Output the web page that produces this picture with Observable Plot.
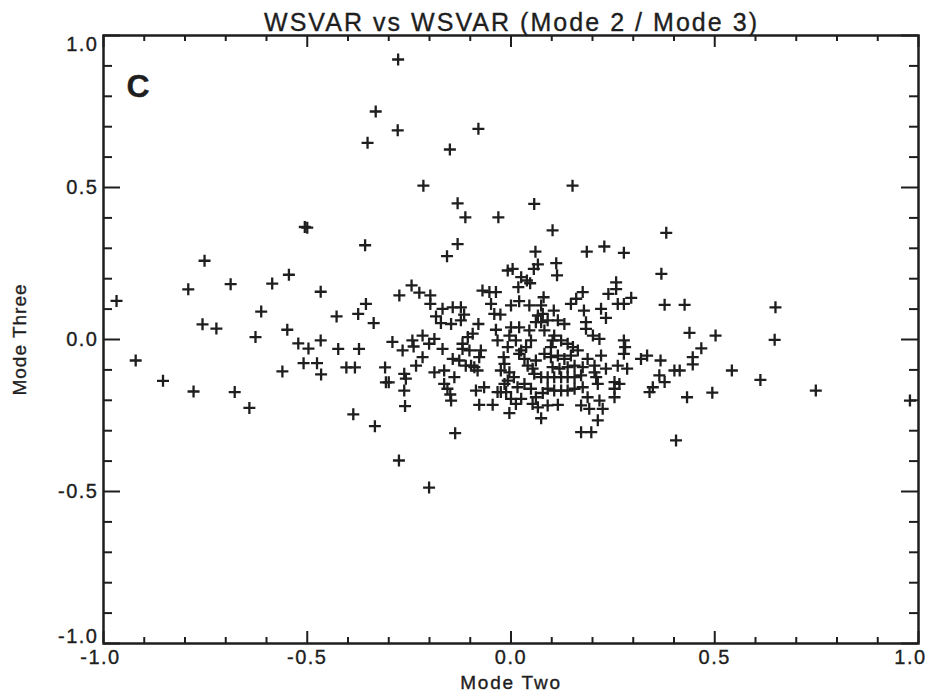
<!DOCTYPE html>
<html>
<head>
<meta charset="utf-8">
<script src="https://cdn.jsdelivr.net/npm/d3@7"></script>
<script src="https://cdn.jsdelivr.net/npm/@observablehq/plot@0.6"></script>
<style>
  body { margin: 0; background: #fff; }
  #chart svg text { stroke: #1e1e1e; stroke-width: 0.35px; }
  #chart svg g[aria-label="x-axis tick label"] text,
  #chart svg g[aria-label="y-axis tick label"] text { letter-spacing: 1.5px; }
  #chart svg g.axis-title-x text { letter-spacing: 1.8px; }
  #chart svg g.axis-title-y text { letter-spacing: 1px; }
</style>
</head>
<body>
<div id="chart"></div>
<script>
// ---- data ----
const modeTwo = [
  -0.968, -0.921, -0.854, -0.792, -0.752, -0.779, -0.757, -0.723, -0.688, -0.678,
  -0.642, -0.627, -0.613, -0.586, -0.561, -0.545, -0.549, -0.522, -0.509, -0.497,
  -0.467, -0.476, -0.467, -0.466, -0.428, -0.424, -0.404, -0.383, -0.375, -0.356,
  -0.387, -0.373, -0.358, -0.337, -0.334, -0.309, -0.307, -0.300, -0.291, -0.274,
  -0.275, -0.277, -0.332, -0.278, -0.352, -0.506, -0.500, -0.080, -0.150, -0.215,
  0.151, -0.131, -0.112, -0.031, 0.057, 0.102, 0.381, -0.131, -0.157, 0.060,
  0.186, 0.229, 0.277, 0.649, 0.502, 0.467, 0.647, 0.542, 0.612, 0.494,
  0.748, 0.979, -0.201, 0.369, 0.111, 0.066, 0.056, 0.113, -0.008, 0.004,
  0.025, 0.039, 0.018, 0.047, -0.244, -0.225, -0.198, -0.198, -0.070, -0.053,
  -0.037, -0.049, -0.168, -0.143, -0.123, -0.184, -0.115, -0.172, -0.147, -0.123,
  -0.080, -0.026, 0.000, 0.020, 0.045, 0.080, 0.105, 0.147, 0.160, 0.176,
  0.179, 0.221, 0.233, 0.239, 0.258, 0.258, 0.262, 0.277, 0.295, 0.377,
  0.426, 0.438, 0.446, 0.446, 0.432, 0.405, 0.367, 0.334, 0.319, 0.401,
  0.414, 0.364, 0.377, 0.348, 0.340, 0.277, 0.280, 0.277, 0.262, 0.285,
  0.233, 0.254, 0.254, 0.254, 0.266, 0.221, 0.172, 0.197, 0.213, 0.225,
  0.192, 0.172, 0.217, 0.074, 0.066, 0.090, 0.115, 0.053, -0.004, 0.012,
  0.000, -0.025, -0.012, -0.045, -0.078, -0.086, -0.137, -0.147, -0.149, -0.156,
  -0.164, -0.139, -0.188, -0.164, -0.233, -0.262, -0.258, -0.262, -0.260, -0.242,
  -0.239, -0.217, -0.201, -0.188, -0.217, -0.266, -0.168, -0.143, -0.127, -0.119,
  -0.102, -0.074, -0.078, -0.111, -0.098, -0.090, -0.094, -0.037, -0.033, 0.000,
  -0.004, 0.012, -0.008, -0.018, -0.016, -0.004, -0.008, 0.007, 0.016, 0.033,
  0.049, 0.061, 0.078, 0.020, 0.033, 0.041, 0.053, 0.057, 0.061, 0.049,
  0.045, 0.066, 0.078, 0.074, 0.061, 0.090, 0.082, 0.115, 0.131, 0.106,
  0.123, 0.139, 0.152, 0.098, 0.082, 0.098, 0.115, 0.131, 0.147, 0.164,
  0.184, 0.201, 0.217, 0.184, 0.188, 0.205, 0.205, 0.209, 0.213, 0.074,
  0.090, 0.106, 0.123, 0.139, 0.156, 0.172, 0.090, 0.106, 0.123, 0.139,
  0.156, 0.176, 0.102, 0.119, 0.139, 0.156, 0.176, 0.188, 0.025, -0.016,
  -0.033, -0.106, -0.119, -0.041, 0.025, 0.037, 0.020, 0.074, -0.082, 0.102,
  -0.025, -0.066
];
const modeThree = [
  0.127, -0.069, -0.136, 0.165, 0.259, -0.171, 0.050, 0.036, 0.182, -0.173,
  -0.225, 0.008, 0.092, 0.184, -0.105, 0.213, 0.032, -0.013, -0.078, -0.030,
  0.157, -0.078, -0.003, -0.115, 0.076, -0.031, -0.092, -0.092, 0.084, 0.117,
  -0.246, -0.031, 0.310, 0.054, -0.285, -0.092, -0.141, -0.141, -0.008, 0.145,
  -0.398, 0.921, 0.750, 0.688, 0.647, 0.370, 0.368, 0.693, 0.625, 0.506,
  0.506, 0.448, 0.402, 0.402, 0.446, 0.359, 0.351, 0.314, 0.274, 0.289,
  0.289, 0.306, 0.285, 0.106, 0.013, -0.029, -0.001, -0.102, -0.133, -0.175,
  -0.168, -0.201, -0.487, 0.216, 0.251, 0.247, 0.232, 0.211, 0.227, 0.232,
  0.205, 0.194, 0.172, 0.185, 0.178, 0.154, 0.145, 0.117, 0.161, 0.156,
  0.156, 0.117, 0.101, 0.106, 0.106, 0.076, 0.082, 0.054, 0.051, 0.063,
  0.051, 0.082, 0.112, 0.126, 0.112, 0.139, 0.095, 0.117, 0.134, 0.156,
  0.095, 0.101, 0.071, 0.150, 0.188, 0.166, 0.117, 0.117, 0.137, 0.114,
  0.114, 0.022, -0.058, -0.082, -0.190, -0.332, -0.069, -0.053, -0.064, -0.102,
  -0.102, -0.118, -0.140, -0.157, -0.173, -0.003, -0.025, -0.047, -0.086, -0.096,
  -0.096, -0.140, -0.162, -0.190, -0.146, -0.053, -0.305, -0.305, -0.266, -0.228,
  -0.228, -0.217, -0.201, -0.259, -0.223, -0.217, -0.215, -0.212, -0.242, -0.212,
  -0.195, -0.173, -0.173, -0.215, -0.215, -0.168, -0.308, -0.201, -0.181, -0.162,
  -0.146, -0.124, -0.108, -0.102, -0.086, -0.113, -0.129, -0.168, -0.219, -0.003,
  -0.023, 0.013, -0.014, 0.002, -0.058, -0.036, -0.031, -0.064, -0.069, -0.031,
  -0.036, -0.036, -0.058, -0.086, -0.086, -0.091, 0.019, 0.032, -0.003, 0.040,
  0.013, -0.003, -0.025, -0.058, -0.080, -0.108, -0.135, -0.124, -0.157, -0.146,
  -0.162, -0.190, -0.176, -0.047, -0.064, -0.086, -0.096, -0.113, -0.069, -0.003,
  0.030, 0.079, 0.084, 0.057, 0.057, 0.063, 0.030, 0.063, 0.051, 0.013,
  -0.003, -0.014, -0.025, -0.025, -0.047, -0.058, -0.053, -0.064, -0.053, -0.036,
  0.035, 0.013, 0.002, 0.057, -0.064, -0.086, -0.108, -0.124, -0.146, -0.124,
  -0.124, -0.124, -0.124, -0.124, -0.124, -0.118, -0.162, -0.168, -0.168, -0.168,
  -0.162, -0.157, -0.091, -0.096, -0.091, -0.086, -0.091, -0.190, -0.195, -0.146,
  -0.173, 0.008, -0.014, 0.084, -0.036, -0.025, 0.040, 0.112, -0.102, -0.003,
  -0.102, -0.157
];
const xMajorTicks = [-1.0, -0.5, 0.0, 0.5, 1.0];
const yMajorTicks = [-1.0, -0.5, 0.0, 0.5, 1.0];
const xMinorTicks = [-0.9, -0.8, -0.7, -0.6, -0.4, -0.3, -0.2, -0.1, 0.1, 0.2, 0.3, 0.4, 0.6, 0.7, 0.8, 0.9];
const yMinorTicks = [-0.9, -0.8, -0.7, -0.6, -0.4, -0.3, -0.2, -0.1, 0.1, 0.2, 0.3, 0.4, 0.6, 0.7, 0.8, 0.9];
const titleText = "WSVAR vs WSVAR (Mode 2 / Mode 3)";
const xTitle = "Mode Two";
const yTitle = "Mode Three";
const panelLabel = "C";

// ---- layout ----
const W = 932, H = 698;
const mL = 103, mR = 14, mT = 35, mB = 55;
const plotW = W - mL - mR, plotH = H - mT - mB;
const ink = "#1e1e1e";
const font = "'Liberation Sans', Arial, Helvetica, sans-serif";
const fmt = d => d.toFixed(1);

const points = modeTwo.map((x, i) => ({x, y: modeThree[i]}));

// thin "+" plotting symbol
const cross = {
  draw(ctx, size) {
    const r = Math.sqrt(size / Math.PI);
    ctx.moveTo(-r, 0); ctx.lineTo(r, 0);
    ctx.moveTo(0, -r); ctx.lineTo(0, r);
  }
};

// end labels are nudged inward, as in the reference
const xInner = xMajorTicks.filter(d => d > -1 && d < 1);
const yInner = yMajorTicks.filter(d => d > -1 && d < 1);
const xLabelOpts = {anchor: "bottom", tickSize: 0, tickPadding: 6, tickFormat: fmt, fontSize: 20, label: null};
const yLabelOpts = {anchor: "left", tickSize: 0, tickPadding: 5, tickFormat: fmt, fontSize: 20, label: null};

const tickStyle = {stroke: ink, strokeWidth: 2};
const chart = Plot.plot({
  width: W, height: H,
  marginLeft: mL, marginRight: mR, marginTop: mT, marginBottom: mB,
  x: {domain: [-1, 1]},
  y: {domain: [-1, 1]},
  style: {fontFamily: font, background: "#fff", color: ink},
  marks: [
    Plot.dot(points, {x: "x", y: "y", symbol: cross, r: 6, stroke: ink, strokeWidth: 2.3, fill: "none"}),
    // inward minor ticks
    Plot.ruleX(xMinorTicks, {x: d => d, insetTop: plotH - 6, ...tickStyle}),
    Plot.ruleX(xMinorTicks, {x: d => d, insetBottom: plotH - 6, ...tickStyle}),
    Plot.ruleY(yMinorTicks, {y: d => d, insetRight: plotW - 9, ...tickStyle}),
    Plot.ruleY(yMinorTicks, {y: d => d, insetLeft: plotW - 9, ...tickStyle}),
    // inward major ticks
    Plot.ruleX(xMajorTicks, {x: d => d, insetTop: plotH - 12, ...tickStyle}),
    Plot.ruleX(xMajorTicks, {x: d => d, insetBottom: plotH - 12, ...tickStyle}),
    Plot.ruleY(yMajorTicks, {y: d => d, insetRight: plotW - 17, ...tickStyle}),
    Plot.ruleY(yMajorTicks, {y: d => d, insetLeft: plotW - 17, ...tickStyle}),
    Plot.frame({stroke: ink, strokeWidth: 2.5}),
    // tick labels
    Plot.axisX(xInner, xLabelOpts),
    Plot.axisX([xMajorTicks[0]], {...xLabelOpts, dx: -3}),
    Plot.axisX([xMajorTicks[xMajorTicks.length - 1]], {...xLabelOpts, dx: -8}),
    Plot.axisY(yInner, yLabelOpts),
    Plot.axisY([yMajorTicks[0]], {...yLabelOpts, dy: -7}),
    Plot.axisY([yMajorTicks[yMajorTicks.length - 1]], {...yLabelOpts, dy: 9}),
    Plot.text([panelLabel], {frameAnchor: "top-left", dx: 23, dy: 39, fontSize: 32, fontWeight: "bold", fill: ink, textAnchor: "start"}),
    Plot.text([xTitle], {frameAnchor: "bottom", dy: 45, fontSize: 19, fill: ink, textAnchor: "middle", className: "axis-title-x"}),
    Plot.text([yTitle], {frameAnchor: "left", dx: -84, rotate: -90, fontSize: 19, fill: ink, textAnchor: "middle", className: "axis-title-y"})
  ]
});

// title sits just above the top frame line
d3.select(chart).append("text")
  .attr("x", mL + plotW / 2)
  .attr("y", 31)
  .attr("text-anchor", "middle")
  .attr("font-family", font)
  .attr("font-size", 25)
  .attr("fill", ink)
  .attr("textLength", 493)
  .attr("lengthAdjust", "spacing")
  .text(titleText);

document.getElementById("chart").appendChild(chart);
</script>
</body>
</html>
